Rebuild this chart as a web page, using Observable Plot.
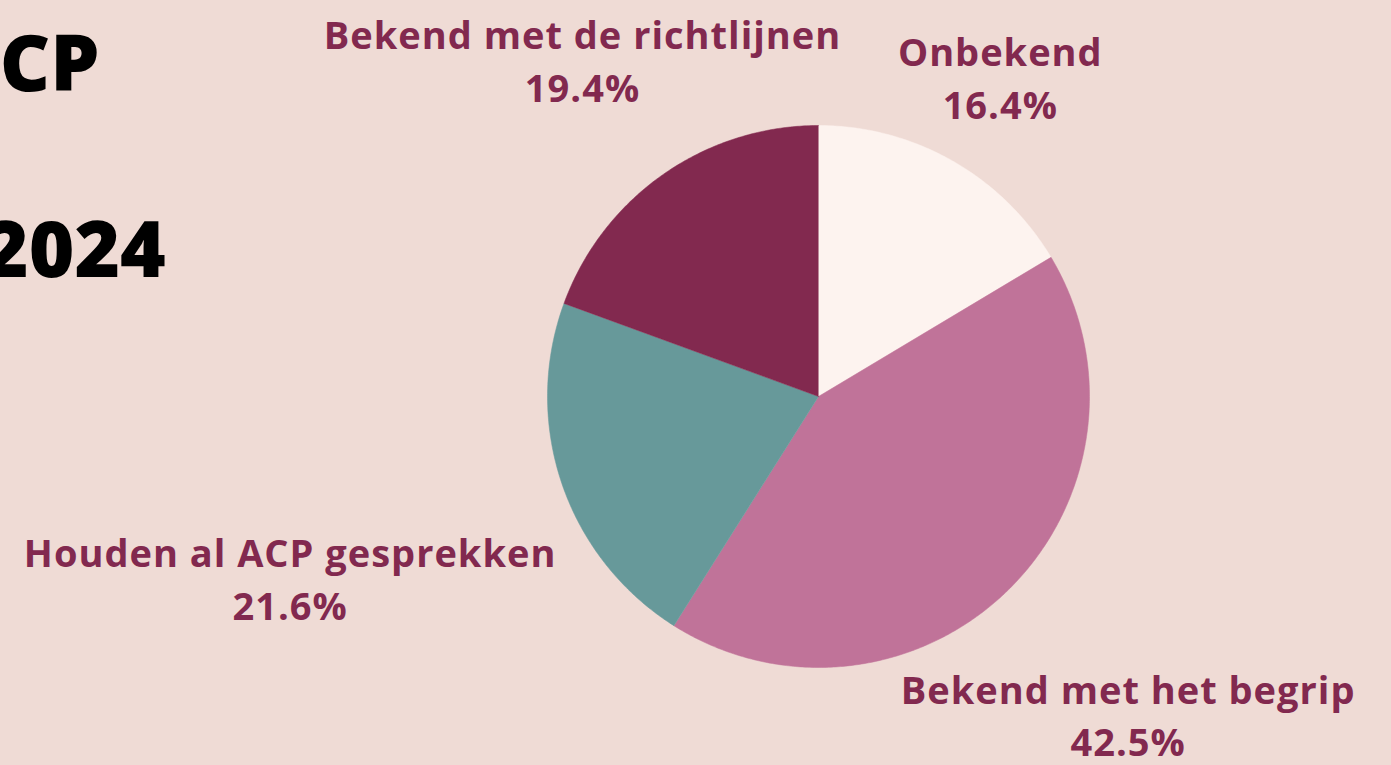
<!DOCTYPE html>
<html>
<head>
<meta charset="utf-8">
<script src="https://cdn.jsdelivr.net/npm/d3@7"></script>
<script src="https://cdn.jsdelivr.net/npm/@observablehq/plot@0.6"></script>
<style>
  html, body { margin: 0; padding: 0; overflow: hidden; background: #efdbd5; }
  #wrap { position: relative; width: 1391px; height: 765px; }
  .title { position: absolute; font-family: "Open Sans", sans-serif; font-weight: 800; font-size: 78px; color: #000; white-space: nowrap; line-height: 1; }
  #chart { position: absolute; left: 0; top: 0; }
  #chart svg text { letter-spacing: 1px; }
</style>
</head>
<body>
<div id="wrap">
  <div class="title" id="t1">ACP</div>
  <div class="title" id="t2">2024</div>
  <div id="chart"></div>
</div>
<script>
// Data
const categories = ["Onbekend", "Bekend met het begrip", "Houden al ACP gesprekken", "Bekend met de richtlijnen"];
const values = [16.4, 42.5, 21.6, 19.4];
const colors = ["#fdf3ef", "#c07399", "#67999a", "#82294f"];

// Layout (label distance from centre, in pie radii)
const labelRadius = [1.36, 1.635, 2.06, 1.52];

const total = d3.sum(values);
const polys = [];
const labels = [];
let acc = 0;
categories.forEach((c, i) => {
  const a0 = acc / total * 2 * Math.PI;
  acc += values[i];
  const a1 = acc / total * 2 * Math.PI;
  polys.push({cat: c, x: 0, y: 0});
  const n = Math.max(2, Math.ceil((a1 - a0) / (Math.PI / 360)));
  for (let k = 0; k <= n; k++) {
    const a = a0 + (a1 - a0) * k / n;
    polys.push({cat: c, x: Math.sin(a), y: Math.cos(a)});
  }
  const am = (a0 + a1) / 2;
  labels.push({cat: c, text: c + "\n" + values[i].toFixed(1) + "%", x: labelRadius[i] * Math.sin(am), y: labelRadius[i] * Math.cos(am)});
});

const W = 1391, H = 765;
const cx = 818, cy = 396, R = 271;

const chart = Plot.plot({
  width: W,
  height: H,
  marginLeft: cx - R,
  marginRight: W - (cx + R),
  marginTop: cy - R,
  marginBottom: H - (cy + R),
  x: {domain: [-1, 1], axis: null},
  y: {domain: [-1, 1], axis: null},
  color: {domain: categories, range: colors},
  style: {background: "transparent", overflow: "visible"},
  marks: [
    Plot.line(polys, {x: "x", y: "y", z: "cat", fill: "cat", stroke: "cat", strokeWidth: 0.5}),
    Plot.text(labels, {x: "x", y: "y", text: "text", fill: "#82294f", fontSize: 38, fontWeight: 700, fontFamily: "Open Sans", lineHeight: 1.38, textAnchor: "middle", lineAnchor: "middle"})
  ]
});
document.getElementById("chart").appendChild(chart);

// Title positioned by right edge
const t1 = document.getElementById("t1"), t2 = document.getElementById("t2");
t1.style.left = (100 - t1.offsetWidth) + "px"; t1.style.top = "22px";
t2.style.left = (166 - t2.offsetWidth) + "px"; t2.style.top = "208px";
</script>
</body>
</html>
